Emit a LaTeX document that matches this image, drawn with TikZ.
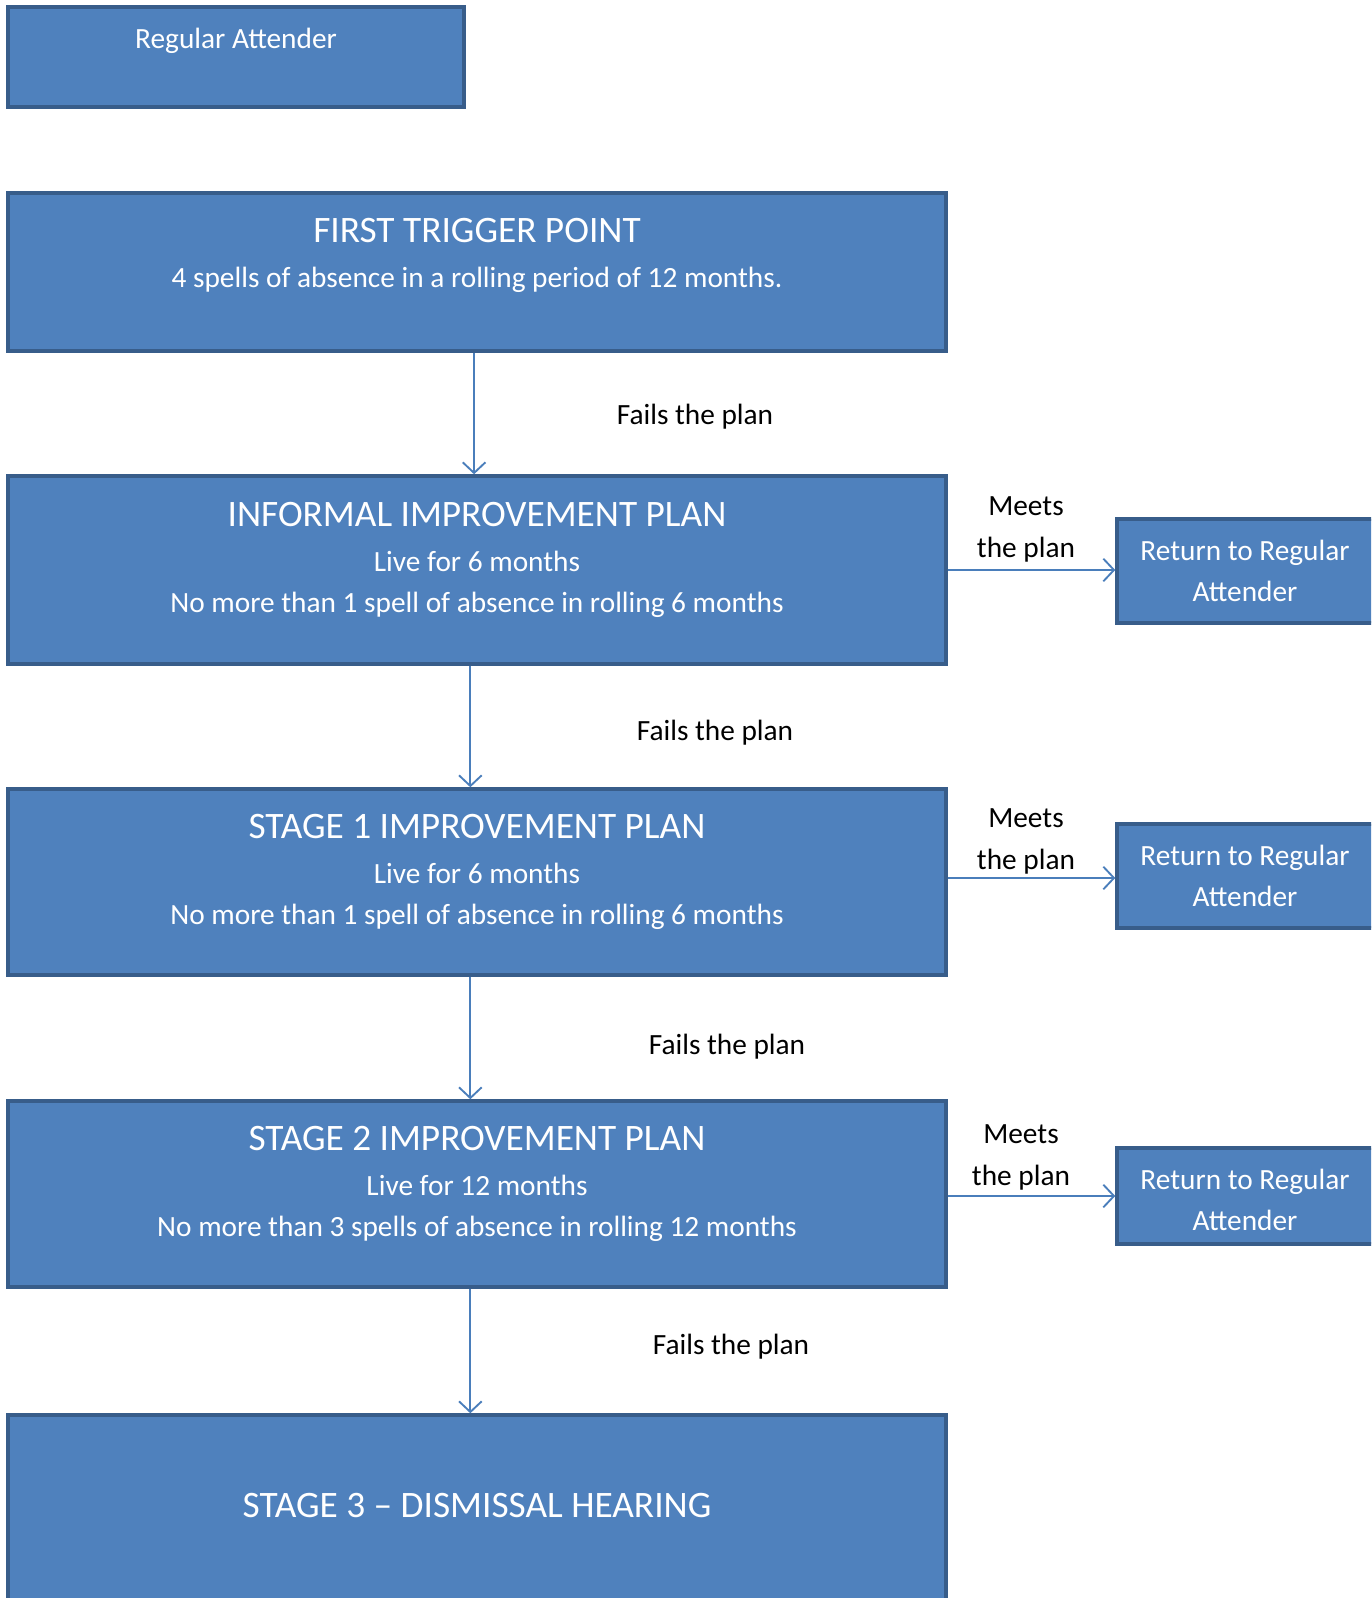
\documentclass[tikz,border=0pt]{standalone}
\usepackage{fontspec}
\setmainfont{Carlito}
\usetikzlibrary{arrows.meta, calc}

\definecolor{boxfill}{HTML}{4F81BD}
\definecolor{boxline}{HTML}{385D8A}
\definecolor{flowline}{HTML}{4A7EBB}

\tikzset{
  box/.style={draw=boxline, fill=boxfill, line width=2.6pt, inner sep=0pt},
  boxtitle/.style={text=white, font=\fontsize{28}{32}\selectfont, inner sep=0pt},
  boxtext/.style={text=white, font=\fontsize{22}{27}\selectfont, inner sep=0pt},
  flowlabel/.style={text=black, font=\fontsize{22}{27}\selectfont, inner sep=0pt},
  flow/.style={draw=flowline, line width=1.4pt, -{Straight Barb[length=8pt, width=17pt, line width=1.4pt]}}
}

\begin{document}
\begin{tikzpicture}[x=0.75pt, y=-0.75pt]
        \clip (0,0) rectangle (1371,1598);
        \useasboundingbox (0,0) rectangle (1371,1598);
        \fill[white] (0,0) rectangle (1371,1598);

        % regular attender
        \node[box, minimum width=456*0.75pt, minimum height=100*0.75pt] (ra) at (236,57) {};
        \node[boxtext] (ratext) at (236,41) {Regular Attender};

        % first trigger point
        \node[box, minimum width=938*0.75pt, minimum height=158*0.75pt] (ftp) at (477,272) {};
        \node[boxtitle] (ftptitle) at (477,231) {FIRST TRIGGER POINT};
        \node[boxtext] (ftpline) at (477,280) {4 spells of absence in a rolling period of 12 months.};

        % informal improvement plan
        \node[box, minimum width=938*0.75pt, minimum height=188*0.75pt] (iip) at (477,570) {};
        \node[boxtitle] (iiptitle) at (477,515) {INFORMAL IMPROVEMENT PLAN};
        \node[boxtext] (iipline1) at (477,561) {Live for 6 months};
        \node[boxtext] (iipline2) at (477,605) {No more than 1 spell of absence in rolling 6 months};

        % stage 1
        \node[box, minimum width=938*0.75pt, minimum height=186*0.75pt] (sone) at (477,882) {};
        \node[boxtitle] (sonetitle) at (477,827) {STAGE 1 IMPROVEMENT PLAN};
        \node[boxtext] (soneline1) at (477,873) {Live for 6 months};
        \node[boxtext] (soneline2) at (477,917) {No more than 1 spell of absence in rolling 6 months};

        % stage 2
        \node[box, minimum width=938*0.75pt, minimum height=186*0.75pt] (stwo) at (477,1194) {};
        \node[boxtitle] (stwotitle) at (477,1139) {STAGE 2 IMPROVEMENT PLAN};
        \node[boxtext] (stwoline1) at (477,1185) {Live for 12 months};
        \node[boxtext] (stwoline2) at (477,1229) {No more than 3 spells of absence in rolling 12 months};

        % stage 3
        \node[box, minimum width=938*0.75pt, minimum height=240*0.75pt] (sthree) at (477,1535) {};
        \node[boxtitle] (sthreetitle) at (477,1505) {STAGE 3 -- DISMISSAL HEARING};

        % return boxes
        \node[box, minimum width=260*0.75pt, minimum height=104*0.75pt] (retone) at (1247,571) {};
        \node[boxtext, align=center] (retonetext) at (1245,571) {Return to Regular\\[3.5pt]Attender};
        \node[box, minimum width=260*0.75pt, minimum height=104*0.75pt] (rettwo) at (1247,876) {};
        \node[boxtext, align=center] (rettwotext) at (1245,876) {Return to Regular\\[3.5pt]Attender};
        \node[box, minimum width=260*0.75pt, minimum height=96*0.75pt] (retthree) at (1247,1196) {};
        \node[boxtext, align=center] (retthreetext) at (1245,1200) {Return to Regular\\[3.5pt]Attender};

        % fails the plan
        \draw[flow] ([xshift=-2.2pt]ftp.south) -- ([xshift=-2.2pt]iip.north);
        \node[flowlabel] (failone) at (695,417) {Fails the plan};
        \draw[flow] ([xshift=-5pt]iip.south) -- ([xshift=-5pt]sone.north);
        \node[flowlabel] (failtwo) at (715,733) {Fails the plan};
        \draw[flow] ([xshift=-5pt]sone.south) -- ([xshift=-5pt]stwo.north);
        \node[flowlabel] (failthree) at (727,1047) {Fails the plan};
        \draw[flow] ([xshift=-5pt]stwo.south) -- ([xshift=-5pt]sthree.north);
        \node[flowlabel] (failfour) at (731,1347) {Fails the plan};

        % meets the plan
        \draw[flow] (iip.east |- 0,570) -- (retone.west |- 0,570);
        \node[flowlabel, align=center] (meetone) at (1026,529) {Meets\\[4.5pt]the plan};
        \draw[flow] (sone.east |- 0,878) -- (rettwo.west |- 0,878);
        \node[flowlabel, align=center] (meettwo) at (1026,841) {Meets\\[4.5pt]the plan};
        \draw[flow] (stwo.east |- 0,1196) -- (retthree.west |- 0,1196);
        \node[flowlabel, align=center] (meetthree) at (1021,1157) {Meets\\[4.5pt]the plan};
\end{tikzpicture}
\end{document}
